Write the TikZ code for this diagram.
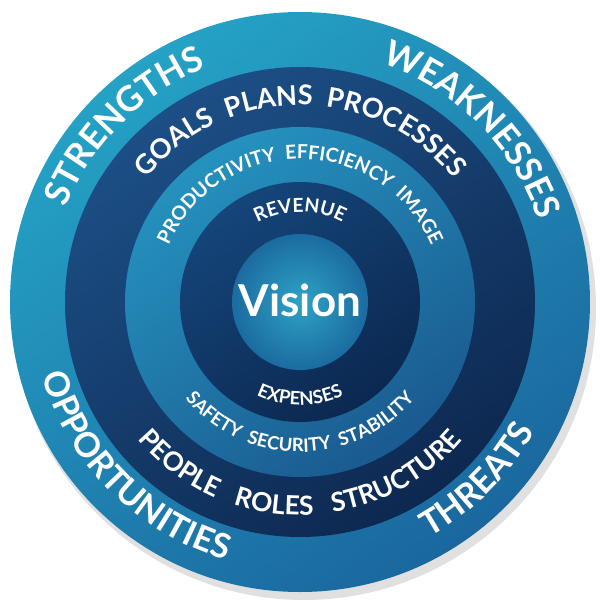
\documentclass[tikz,border=0pt]{standalone}
\usepackage{fontspec}
\setmainfont{Lato}
\usetikzlibrary{decorations.text}
\definecolor{tealA}{HTML}{25A2C6}
\definecolor{tealB}{HTML}{1A679E}
\definecolor{navyA}{HTML}{1C4F86}
\definecolor{navyB}{HTML}{0D2850}
\definecolor{midA}{HTML}{2592BE}
\definecolor{midB}{HTML}{1A5A90}
\definecolor{inA}{HTML}{0B2850}
\definecolor{inB}{HTML}{15457A}
\definecolor{cenA}{HTML}{2EA3C6}
\definecolor{cenB}{HTML}{1B6BA0}
\tikzset{
 arctext/.style={decorate,decoration={text along path,text align=center,text={#1}}},
}
\newcommand{\fo}[1]{|\fontsize{#1}{#1}\selectfont\bfseries\color{white}|}
\begin{document}
\begin{tikzpicture}[x=0.02cm,y=0.02cm]
\useasboundingbox (-300,-298) rectangle (300,302);
\fill[black,opacity=0.12] (4,-6) circle (292);
\shade[top color=tealA,bottom color=tealB,shading angle=35] (0,0) circle (290);
\shade[top color=navyA,bottom color=navyB,shading angle=35] (0,0) circle (235);
\shade[top color=midA,bottom color=midB,shading angle=35] (0,0) circle (175);
\shade[top color=inB,bottom color=inA,shading angle=35] (0,0) circle (120);
\shade[inner color=cenA,outer color=cenB] (0,0) circle (68);
\node[text=white,font=\fontsize{25}{25}\selectfont\bfseries] (vision) at (0,2) {Vision};
% outer ring
\path[arctext={\fo{20}STRENGTHS}] (180:252) arc[start angle=180,end angle=90,radius=252];
\path[arctext={\fo{20}WEAKNESSES}] (90:252) arc[start angle=90,end angle=0,radius=252];
\path[arctext={\fo{19.5}OPPORTUNITIES}] (180:268) arc[start angle=180,end angle=270,radius=268];
\path[arctext={\fo{19.5}THREATS}] (270:268) arc[start angle=270,end angle=360,radius=268];
% ring 2
\path[arctext={\fo{15.5}GOALS\ \ PLANS\ \ PROCESSES}] (175:197) arc[start angle=175,end angle=5,radius=197];
\path[arctext={\fo{15}PEOPLE\ \ \ ROLES\ \ \ STRUCTURE}] (190:213) arc[start angle=190,end angle=350,radius=213];
% ring 3
\path[arctext={\fo{11}PRODUCTIVITY\ \ EFFICIENCY\ \ IMAGE}] (175:143) arc[start angle=175,end angle=5,radius=143];
\path[arctext={\fo{10.5}SAFETY\ \ SECURITY\ \ STABILITY}] (190:150) arc[start angle=190,end angle=350,radius=150];
% ring 4
\path[arctext={\fo{11}REVENUE}] (150:90) arc[start angle=150,end angle=30,radius=90];
\path[arctext={\fo{10.5}EXPENSES}] (210:103) arc[start angle=210,end angle=330,radius=103];
\end{tikzpicture}
\end{document}
